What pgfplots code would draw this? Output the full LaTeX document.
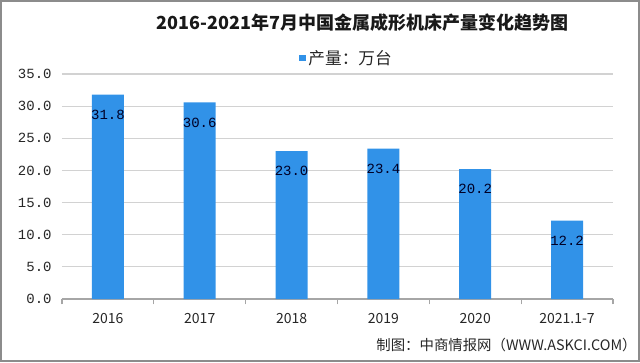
\documentclass[border=0pt]{standalone}
\usepackage{pgfplots}
\pgfplotsset{compat=1.18}
\usepackage{fontspec}
\setmainfont{Noto Sans CJK SC}
\newfontfamily\cjk{Noto Sans CJK SC}
\newfontfamily\mono{Liberation Mono}
\definecolor{barblue}{RGB}{49,146,232}
\definecolor{framegray}{RGB}{140,140,140}
\begin{document}
\begin{tikzpicture}[x=1pt,y=1pt]
\path[use as bounding box] (0,0) rectangle (480,271.5);
\draw[framegray, line width=1.2pt] (0.6,0.6) rectangle (479.4,270.9);
\node[font=\cjk\bfseries\fontsize{13.5}{15}\selectfont, text=black!90] at (272,254.25) {2016-2021年7月中国金属成形机床产量变化趋势图};
\node[anchor=east, font=\cjk\fontsize{10.8}{12}\selectfont, text=black!85] at (481,12.75) {制图：中商情报网（WWW.ASKCI.COM）};
\begin{axis}[
  at={(46.5pt,47.25pt)}, anchor=south west,
  scale only axis, width=413.25pt, height=168.75pt,
  xmin=-0.5, xmax=5.5, ymin=0, ymax=35,
  ytick={0,5,...,35},
  xtick={0,...,5},
  xticklabels={2016,2017,2018,2019,2020,2021.1-7},
  minor xtick={-0.5,0.5,...,5.5},
  axis x line*=bottom, axis y line*=left,
  y axis line style={draw=none},
  x axis line style={draw=gray!70, line width=0.8pt, -},
  major x tick style={draw=none},
  major y tick style={draw=none},
  minor x tick style={draw=gray!70, line width=0.8pt},
  minor tick length=4pt,
  tick align=outside,
  ymajorgrids, major grid style={draw=gray!35, line width=0.8pt},
  /pgf/number format/assume math mode=true,
  yticklabel style={font=\mono\fontsize{10.5}{12}\selectfont, text=black!85, /pgf/number format/fixed, /pgf/number format/precision=1, /pgf/number format/fixed zerofill},
  xticklabel style={font=\cjk\fontsize{10.5}{12}\selectfont, text=black!85, yshift=-3pt},
  ybar, bar width=24pt,
  nodes near coords,
  nodes near coords style={anchor=north, yshift=-8pt, font=\mono\fontsize{10.5}{12}\selectfont, text=black!85!blue, /pgf/number format/fixed, /pgf/number format/precision=1, /pgf/number format/fixed zerofill},
  legend style={at={(0.5166,1.071)}, anchor=center, draw=none, fill=none, font=\cjk\fontsize{12.5}{14}\selectfont, text=black!85, inner sep=0pt, legend cell align=left},
  legend image code/.code={\fill[barblue] (0pt,-2.6pt) rectangle (5.25pt,2.6pt);},
  clip=false,
]
\addplot[fill=barblue, draw=none] coordinates {(0,31.8) (1,30.6) (2,23.0) (3,23.4) (4,20.2) (5,12.2)};
\addlegendentry{产量：万台}
\end{axis}
\end{tikzpicture}
\end{document}
